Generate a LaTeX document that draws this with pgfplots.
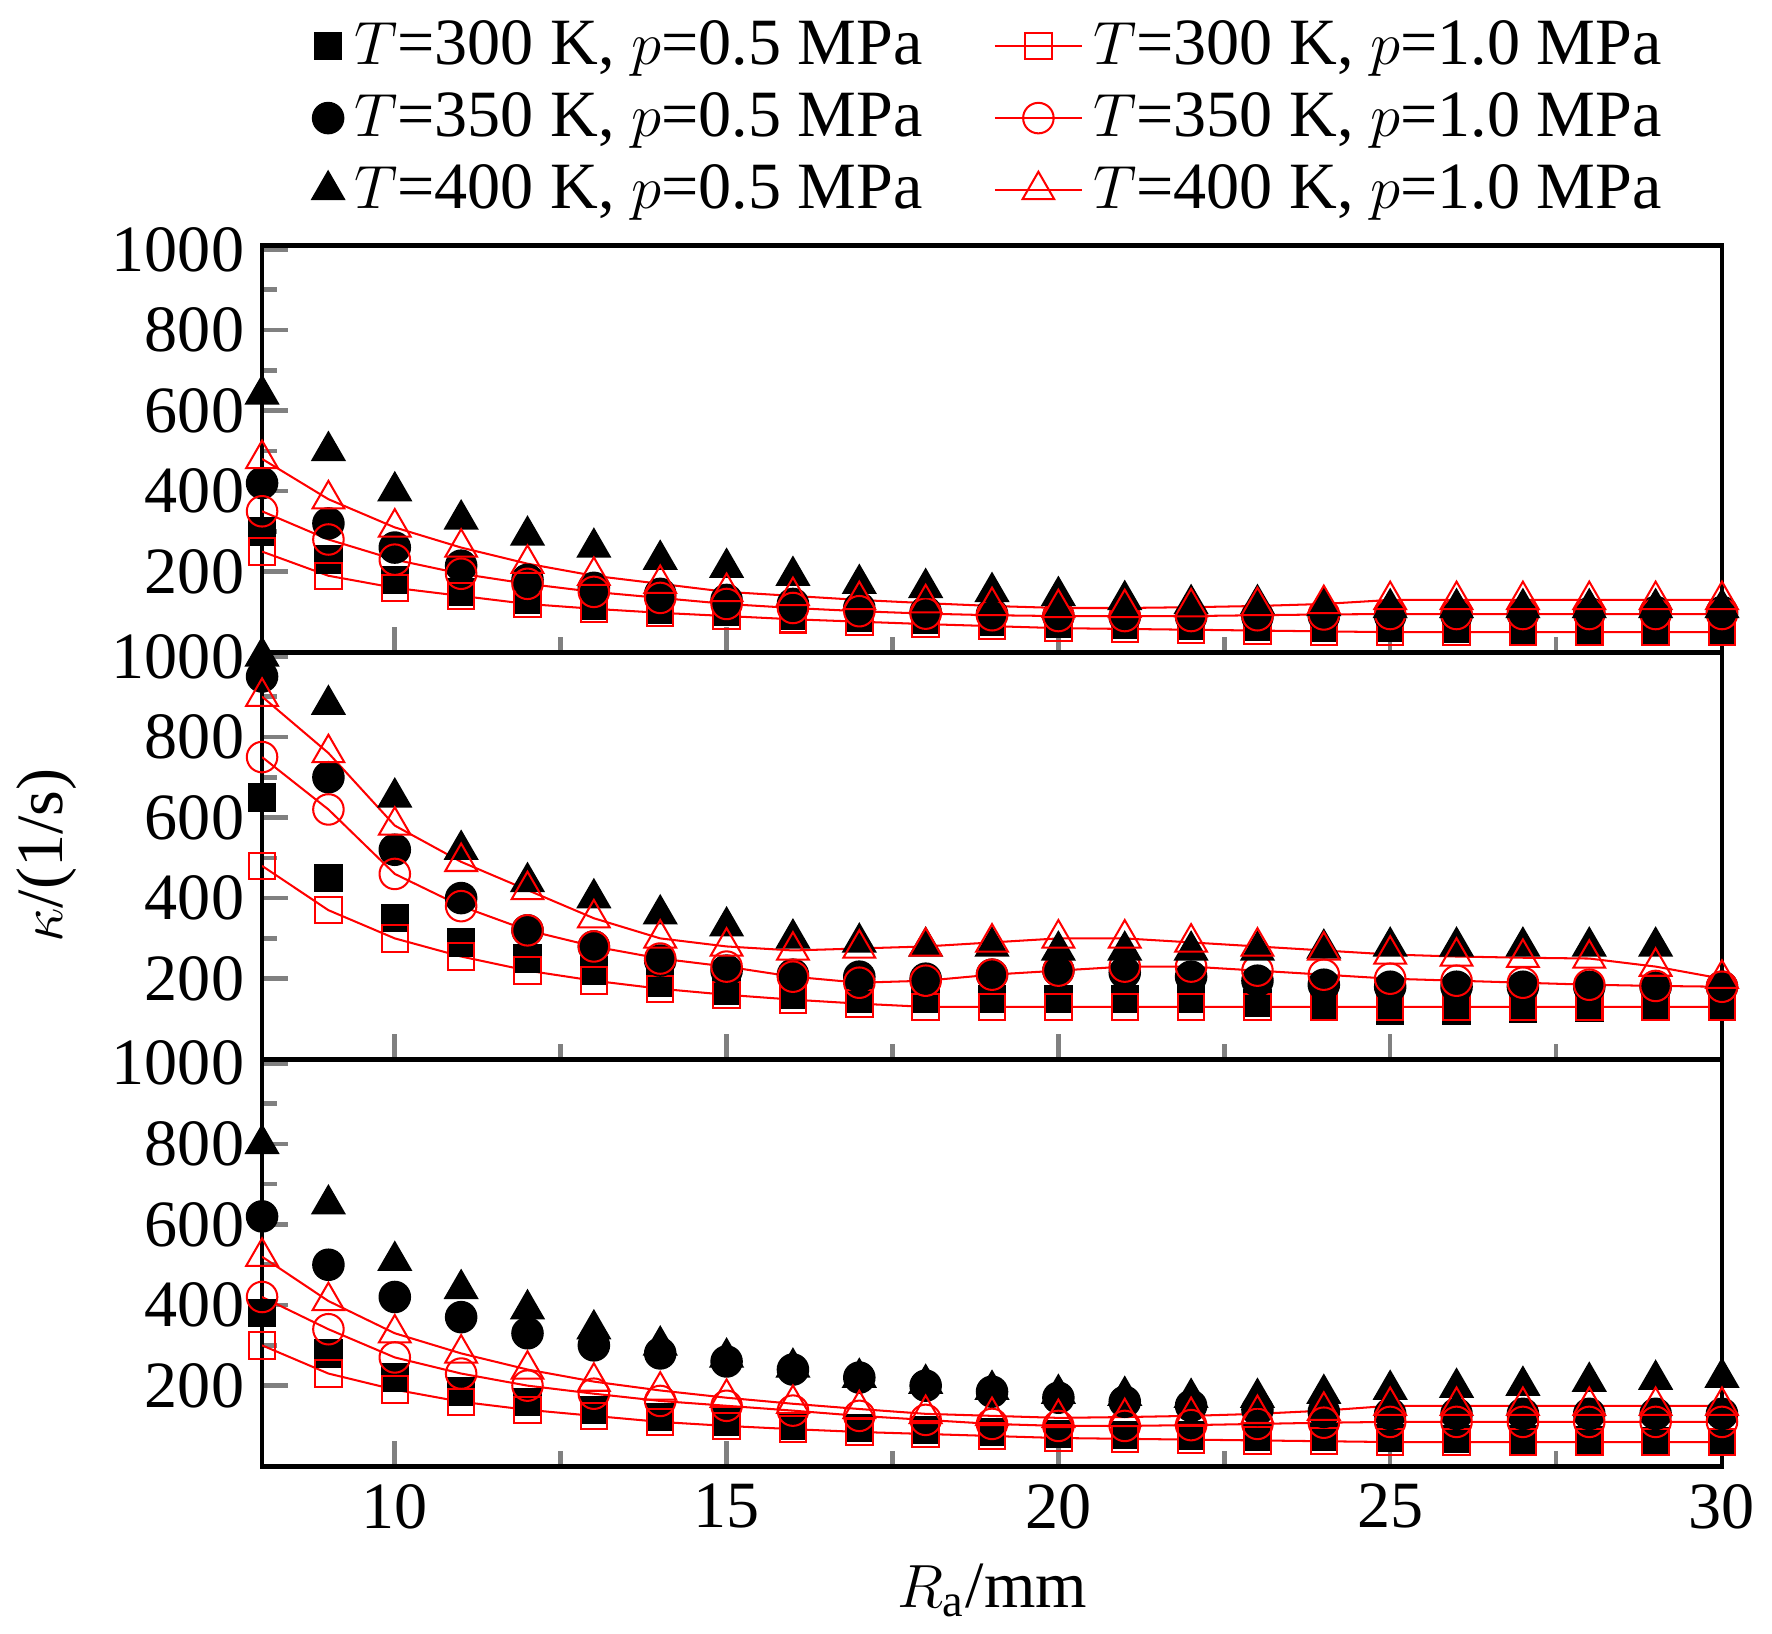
\documentclass[border=0pt]{standalone}
\usepackage{pgfplots}
\pgfplotsset{compat=1.18}
\usepgfplotslibrary{groupplots}
\usepackage{fontspec}
\setmainfont{Liberation Serif}
\begin{document}
\begin{tikzpicture}
\pgfplotsset{
 A/.style={only marks,mark=square*,black,mark size=2.6pt},
 B/.style={red,thin,mark=square,mark options={draw=red,fill=white,solid},mark size=2.6pt},
 C/.style={only marks,mark=*,black,mark size=3pt},
 D/.style={red,thin,mark=o,mark options={draw=red,fill=white},mark size=3pt},
 E/.style={only marks,mark=triangle*,black,mark size=3.6pt},
 F/.style={red,thin,mark=triangle,mark options={draw=red,fill=pink!40},mark size=3.6pt},
}
\begin{groupplot}[group style={group size=1 by 3,vertical sep=0pt,xticklabels at=edge bottom},
 width=287pt,height=80pt,scale only axis,xmin=8,xmax=30,ymin=0,ymax=1010,
 xtick={10,15,20,25,30},minor x tick num=1,ytick={200,400,600,800,1000},minor y tick num=1,
 tick pos=left,tick align=inside,major tick length=5pt,minor tick length=3pt,
 axis line style={line width=0.9pt},tick style={line width=0.9pt},
 tick label style={font=\fontsize{13}{15}\selectfont},
 /pgf/number format/assume math mode=true,
 /pgf/number format/1000 sep={}]
\nextgroupplot[legend columns=2,legend style={draw=none,fill=none,at={(0.5,1.02)},anchor=south,font=\fontsize{13}{15}\selectfont,/tikz/every even column/.append style={column sep=12pt}},legend cell align=left]
\addplot[A] coordinates {(8,300)(9,230)(10,180)(11,150)(12,130)(13,115)(14,105)(15,100)(16,90)(17,85)(18,80)(19,75)(20,70)(21,68)(22,65)(23,63)(24,62)(25,60)(26,58)(27,56)(28,55)(29,52)(30,50)};
\addlegendentry{$T$=300 K, $p$=0.5 MPa}
\addplot[B] coordinates {(8,250)(9,190)(10,160)(11,140)(12,120)(13,108)(14,98)(15,90)(16,82)(17,76)(18,70)(19,65)(20,60)(21,58)(22,56)(23,54)(24,52)(25,50)(26,50)(27,50)(28,50)(29,50)(30,50)};
\addlegendentry{$T$=300 K, $p$=1.0 MPa}
\addplot[C] coordinates {(8,420)(9,320)(10,260)(11,215)(12,180)(13,160)(14,145)(15,130)(16,120)(17,110)(18,100)(19,95)(20,90)(21,88)(22,88)(23,88)(24,90)(25,90)(26,92)(27,95)(28,97)(29,100)(30,100)};
\addlegendentry{$T$=350 K, $p$=0.5 MPa}
\addplot[D] coordinates {(8,350)(9,280)(10,230)(11,195)(12,170)(13,150)(14,135)(15,120)(16,110)(17,102)(18,96)(19,92)(20,90)(21,90)(22,90)(23,92)(24,94)(25,95)(26,95)(27,95)(28,95)(29,95)(30,95)};
\addlegendentry{$T$=350 K, $p$=1.0 MPa}
\addplot[E] coordinates {(8,640)(9,500)(10,400)(11,330)(12,290)(13,260)(14,230)(15,210)(16,190)(17,170)(18,160)(19,150)(20,140)(21,130)(22,120)(23,120)(24,115)(25,110)(26,110)(27,110)(28,110)(29,110)(30,110)};
\addlegendentry{$T$=400 K, $p$=0.5 MPa}
\addplot[F] coordinates {(8,480)(9,380)(10,310)(11,260)(12,220)(13,190)(14,170)(15,150)(16,140)(17,130)(18,122)(19,115)(20,110)(21,110)(22,112)(23,115)(24,120)(25,130)(26,130)(27,130)(28,130)(29,130)(30,130)};
\addlegendentry{$T$=400 K, $p$=1.0 MPa}
\nextgroupplot[ylabel={$\kappa$/(1/s)},ylabel style={font=\fontsize{13}{15}\selectfont}]
\addplot[A] coordinates {(8,650)(9,450)(10,350)(11,290)(12,250)(13,220)(14,190)(15,170)(16,160)(17,150)(18,150)(19,150)(20,150)(21,150)(22,150)(23,140)(24,130)(25,120)(26,120)(27,125)(28,128)(29,130)(30,130)};
\addplot[B] coordinates {(8,480)(9,370)(10,300)(11,255)(12,220)(13,195)(14,175)(15,160)(16,148)(17,138)(18,130)(19,130)(20,130)(21,130)(22,130)(23,130)(24,130)(25,130)(26,130)(27,130)(28,130)(29,130)(30,130)};
\addplot[C] coordinates {(8,950)(9,700)(10,520)(11,400)(12,320)(13,280)(14,245)(15,220)(16,210)(17,205)(18,200)(19,210)(20,220)(21,215)(22,205)(23,195)(24,185)(25,180)(26,180)(27,180)(28,180)(29,180)(30,180)};
\addplot[D] coordinates {(8,750)(9,620)(10,460)(11,380)(12,320)(13,280)(14,250)(15,230)(16,205)(17,190)(18,195)(19,210)(20,220)(21,230)(22,230)(23,220)(24,210)(25,200)(26,195)(27,190)(28,185)(29,182)(30,180)};
\addplot[E] coordinates {(8,1000)(9,880)(10,650)(11,520)(12,440)(13,400)(14,360)(15,330)(16,300)(17,290)(18,280)(19,280)(20,270)(21,270)(22,270)(23,270)(24,275)(25,280)(26,280)(27,280)(28,280)(29,280)};
\addplot[F] coordinates {(8,900)(9,760)(10,580)(11,490)(12,420)(13,350)(14,300)(15,280)(16,270)(17,275)(18,280)(19,290)(20,300)(21,300)(22,290)(23,280)(24,270)(25,260)(26,255)(27,252)(28,250)(29,230)(30,200)};
\nextgroupplot[xlabel={$R_{\mathrm{a}}$/mm},xlabel style={font=\fontsize{13}{15}\selectfont}]
\addplot[A] coordinates {(8,380)(9,280)(10,220)(11,185)(12,160)(13,140)(14,122)(15,110)(16,100)(17,95)(18,90)(19,85)(20,80)(21,78)(22,76)(23,74)(24,72)(25,70)(26,68)(27,66)(28,64)(29,62)(30,60)};
\addplot[B] coordinates {(8,300)(9,230)(10,190)(11,160)(12,140)(13,125)(14,110)(15,100)(16,92)(17,85)(18,80)(19,75)(20,70)(21,68)(22,66)(23,64)(24,62)(25,60)(26,60)(27,60)(28,60)(29,60)(30,60)};
\addplot[C] coordinates {(8,620)(9,500)(10,420)(11,370)(12,330)(13,300)(14,280)(15,260)(16,240)(17,220)(18,200)(19,185)(20,170)(21,160)(22,150)(23,140)(24,135)(25,130)(26,130)(27,130)(28,130)(29,130)(30,130)};
\addplot[D] coordinates {(8,420)(9,340)(10,270)(11,230)(12,200)(13,180)(14,162)(15,150)(16,138)(17,125)(18,115)(19,105)(20,100)(21,100)(22,102)(23,105)(24,108)(25,110)(26,110)(27,110)(28,110)(29,110)(30,110)};
\addplot[E] coordinates {(8,800)(9,650)(10,510)(11,440)(12,390)(13,340)(14,300)(15,270)(16,245)(17,220)(18,205)(19,190)(20,180)(21,175)(22,170)(23,170)(24,180)(25,190)(26,195)(27,200)(28,210)(29,215)(30,220)};
\addplot[F] coordinates {(8,520)(9,410)(10,330)(11,280)(12,240)(13,210)(14,188)(15,170)(16,155)(17,142)(18,130)(19,125)(20,120)(21,122)(22,125)(23,130)(24,138)(25,150)(26,150)(27,150)(28,150)(29,150)(30,150)};
\end{groupplot}
\end{tikzpicture}
\end{document}
